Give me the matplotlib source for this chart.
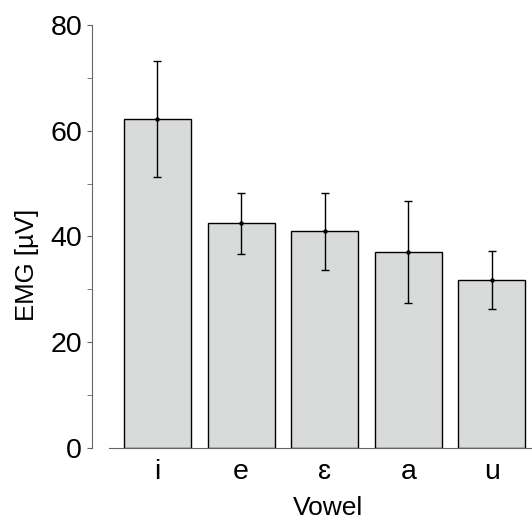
import matplotlib
matplotlib.use("Agg")
import matplotlib.pyplot as plt
from matplotlib.ticker import MultipleLocator

vowels = ["i", "e", "ɛ", "a", "u"]
emg_mean = [62.2, 42.5, 41.0, 37.1, 31.8]
emg_err = [11.0, 5.75, 7.25, 9.6, 5.5]

plt.rcParams['font.family'] = ['Liberation Sans', 'DejaVu Sans']

fig = plt.figure(figsize=(5.32, 5.21), dpi=100)
ax = fig.add_axes([109/532, 1-448/521, 1-109/532, (448-25)/521])

x = list(range(len(vowels)))
ax.bar(x, emg_mean, width=0.8, color='#d9dbdb', edgecolor='black', linewidth=1.0, zorder=2)
ax.errorbar(x, emg_mean, yerr=emg_err, fmt='o', ms=2.2, mfc='black', mec='black',
            ecolor='black', elinewidth=1.0, capsize=2.6, capthick=1.0, color='black', zorder=3)

ax.set_xlim(-0.58, 4.48)
ax.set_ylim(0, 80)
ax.set_xticks(x)
ax.set_xticklabels(vowels)
ax.yaxis.set_major_locator(MultipleLocator(20))
ax.yaxis.set_minor_locator(MultipleLocator(10))

for s in ['top', 'right']:
    ax.spines[s].set_visible(False)
ax.spines['left'].set_position(('outward', 12.2))
ax.spines['left'].set_bounds(0, 80)
ax.spines['left'].set_color('#666666')
ax.spines['bottom'].set_color('#666666')

ax.tick_params(axis='y', which='both', direction='out', length=3.6, color='#666666',
               labelsize=20.5, pad=3.6)
ax.tick_params(axis='x', which='both', direction='in', length=3.6, color='#666666',
               labelsize=20.5, pad=8)

ax.set_xlabel('Vowel', fontsize=19, labelpad=8)
ax.xaxis.label.set_x(0.518)
ax.set_ylabel('EMG [µV]', fontsize=18.5)
ax.yaxis.set_label_coords(-0.166, 0.433)

fig.savefig('out.png', dpi=100)
